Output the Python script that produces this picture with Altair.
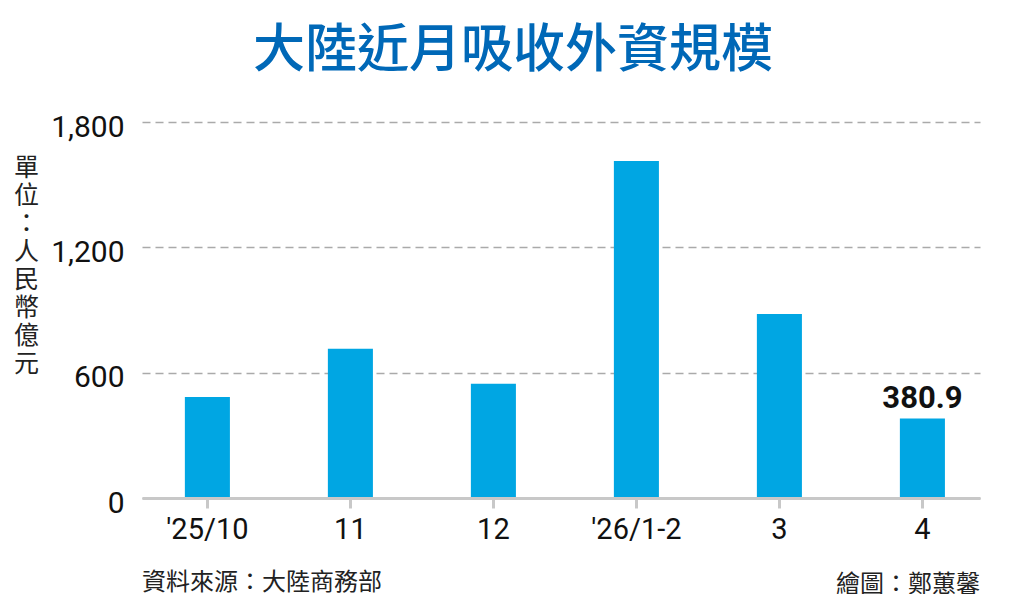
import altair as alt
import pandas as pd

# ---- data ----
categories = ["'25/10", "11", "12", "'26/1-2", "3", "4"]
values = [483, 715, 547, 1613, 881, 380.9]
labels = ["", "", "", "", "", "380.9"]
y_ticks = [0, 600, 1200, 1800]
unit_text = "單位：人民幣億元"
source_text = ["資料來源：大陸商務部"]
credit_text = ["繪圖：鄭蕙馨"]
title_text = "大陸近月吸收外資規模"

df = pd.DataFrame({"month": categories, "value": values, "label": labels})

FONT_NUM = "Roboto"
FONT_CJK = "Noto Sans CJK TC"
BAR = "#00A6E3"

W, H = 838, 376

x_enc = alt.X(
    "month:N",
    sort=categories,
    scale=alt.Scale(paddingInner=0.685, paddingOuter=0.2725, align=0.55),
    axis=alt.Axis(
        title=None, labelAngle=0, labelFont=FONT_NUM, labelFontSize=29,
        labelColor="#111111", domainColor="#c8c8c8", domainWidth=3,
        tickColor="#c8c8c8", tickWidth=3, tickSize=10, labelPadding=7,
        grid=False, zindex=1,
    ),
)
y_enc = alt.Y(
    "value:Q",
    scale=alt.Scale(domain=[0, 1800], nice=False),
    axis=alt.Axis(
        values=y_ticks, format=",.0f", labelFont=FONT_NUM, labelFontSize=30,
        labelColor="#111111", domain=False, ticks=False, labelPadding=18,
        labelOffset=5,
        gridColor="#aaaaaa", gridDash=[8, 5], gridWidth=1.3,
        title=list(unit_text), titleAngle=0, titleFont=FONT_CJK,
        titleFontSize=25, titleFontWeight="normal", titleColor="#222222",
        titleX=-116, titleY=33, titleAlign="center", titleBaseline="top",
        titleLineHeight=28,
    ),
)

base = alt.Chart(df)
bars = base.mark_bar(color=BAR).encode(x=x_enc, y=y_enc)
value_label = base.mark_text(
    font=FONT_NUM, fontSize=31, fontWeight="bold", color="#111111",
    baseline="alphabetic", dy=-10,
).encode(x=alt.X("month:N", sort=categories), y="value:Q", text="label:N")

src = alt.Chart(pd.DataFrame({"t": source_text})).mark_text(
    font=FONT_CJK, fontSize=24, color="#222222", align="left", baseline="middle"
).encode(x=alt.value(0), y=alt.value(461), text="t:N")
credit = alt.Chart(pd.DataFrame({"t": credit_text})).mark_text(
    font=FONT_CJK, fontSize=24, color="#222222", align="right", baseline="middle"
).encode(x=alt.value(W), y=alt.value(463), text="t:N")

chart = (
    alt.layer(bars, value_label, src, credit)
    .properties(
        width=W, height=H,
        title=alt.TitleParams(
            title_text, font=FONT_CJK, fontSize=52, fontWeight=500,
            color="#0068B7", anchor="middle", frame="group", dx=-48, offset=34,
        ),
        autosize=alt.AutoSizeParams(type="none"),
        padding={"left": 134, "top": 114, "right": 30, "bottom": 96},
        background="white",
    )
    .configure_view(stroke=None)
)

chart.save("out.html", embed_options={"renderer": "svg", "actions": False})
